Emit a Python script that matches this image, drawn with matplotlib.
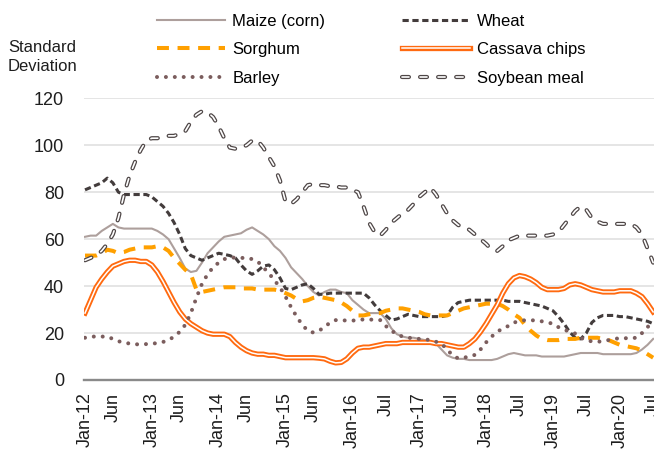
import numpy as np
import pandas as pd
import matplotlib
matplotlib.use('Agg')
import matplotlib.pyplot as plt
import matplotlib.patheffects as pe

plt.rcParams['font.family'] = ['Liberation Sans', 'DejaVu Sans']
plt.rcParams['lines.scale_dashes'] = False

# monthly, Jan-2012 .. Jul-2020
months = pd.date_range('2012-01-01', '2020-07-01', freq='MS')

maize = [61, 61.5, 61.5, 63.5, 65, 66.5, 65, 64.5, 64.5, 64.5, 64.5, 64.5,
         64.5, 63.5, 62, 60, 56, 52, 47.5, 46, 46.5, 50, 54, 56.5,
         59, 61, 61.5, 62, 62.5, 64, 65, 63.5, 62, 60, 57, 55,
         52, 48, 45.5, 43, 40, 37.5, 36, 37.5, 38.5, 38.5, 37.5, 37,
         34, 32, 30, 28.5, 28.5, 28.5, 26, 22, 19.5, 18.5, 18, 18,
         17.5, 17, 16.5, 15.5, 13, 10.5, 9.5, 9, 9, 8.5, 8.5, 8.5,
         8.5, 8.5, 9, 10, 11, 11.5, 11, 10.5, 10.5, 10.5, 10, 10,
         10, 10, 10, 10.5, 11, 11.5, 11.5, 11.5, 11.5, 11, 11, 11,
         11, 11, 11, 11.5, 13, 15, 17.5]

wheat = [81, 82, 83, 84, 86, 84, 80, 79, 79, 79, 79, 79,
         78, 76, 74, 71, 67, 62, 56, 53, 52, 51, 52, 53,
         54, 53.5, 53, 52, 49, 46.5, 45, 46.5, 48.5, 49, 47, 43.5,
         39, 38.5, 39.5, 40.5, 41, 39, 36.5, 36.5, 37, 37, 37, 37,
         37, 37, 37, 35, 32, 29.5, 27.5, 25.5, 26, 27, 28, 27.5,
         27, 27, 27, 27, 27, 27.5, 31, 33, 33.5, 34, 34, 34,
         34, 34, 34, 34, 33.5, 33.5, 33.5, 33, 32.5, 32, 31.5, 30.5,
         29.5, 27, 24, 20.5, 18, 17.5, 20, 24.5, 26.5, 27.5, 27.5, 27.5,
         27, 27, 26.5, 26, 25.5, 25, 24]

sorghum = [53, 53, 53, 54, 55.5, 55, 54, 54.5, 55.5, 56, 56.5, 56.5,
           56.5, 57, 56.5, 55, 52, 49.5, 47, 45, 38.5, 37.5, 38, 38.5,
           39, 39.5, 39.5, 39.5, 39, 39, 39, 38.5, 38.5, 38.5, 38.5, 38,
           37, 36, 34.5, 33.5, 34, 35, 35.5, 35, 34.5, 34, 33, 31.5,
           29.5, 27.5, 27.5, 28, 28.5, 28.5, 29.5, 30, 30.5, 30.5, 30, 29.5,
           29, 28, 27.5, 27.5, 27.5, 27.5, 28.5, 29.5, 30.5, 31, 31.5, 32,
           32.5, 32.5, 32.5, 31.5, 30, 28, 26.5, 23.5, 21, 19, 17.5, 17,
           17, 17, 17.5, 17.5, 17.5, 18, 18, 18, 18, 17.5, 17, 16,
           15, 14.5, 14, 13.5, 12.5, 11, 9.5]

cassava = [28.5, 34, 39.5, 43, 46, 48.5, 49.5, 50.5, 51, 51, 50.5, 50.5,
           49, 46, 42, 37.5, 33, 29, 26, 24, 22.5, 21, 20, 19.5,
           19.5, 19.5, 18.5, 16, 14, 12.5, 11.5, 11, 11, 10.5, 10.5, 10,
           9.5, 9.5, 9.5, 9.5, 9.5, 9.5, 9.3, 9, 8, 7.3, 7.5, 9,
           11.5, 13.5, 14, 14, 14.5, 15, 15.5, 15.5, 15.5, 16, 16, 16,
           16, 16, 16, 15.5, 15.5, 15, 14.5, 14, 14, 15.5, 17.5, 20.5,
           24, 28, 32, 37, 41, 43.5, 44.5, 44, 43, 41.5, 39.5, 38.5,
           38.5, 38.5, 39, 40.5, 41, 40.5, 39.5, 38.5, 38, 37.5, 37.5, 37.5,
           38, 38, 38, 37, 35.5, 32.5, 29]

barley = [18, 18.5, 18.5, 18.5, 18.5, 17.5, 16.5, 16, 15.5, 15.2, 15.2, 15.3,
          15.5, 15.7, 16.2, 17, 18.5, 20.5, 23.5, 28.5, 35, 41, 45, 48,
          50, 51.5, 52, 52.2, 52, 52, 51.5, 50.5, 48, 45.5, 42.5, 39.5,
          35.5, 31, 27, 23.5, 21, 20.2, 21, 22.5, 24.5, 25.5, 25.5, 25.3,
          25.3, 25.5, 25.8, 25.8, 25.6, 25.5, 23, 21, 19.5, 18.5, 18, 17.8,
          17.5, 17.3, 17, 16.3, 15.5, 13, 10.5, 9.2, 9.5, 10, 10.7, 13,
          16, 18.5, 20.5, 22, 23, 24.5, 25, 25.5, 25.5, 25.3, 25, 24.5,
          24, 22.5, 21.5, 20.5, 19.8, 18, 16.8, 16.5, 16.3, 16.5, 17, 17.5,
          17.8, 17.8, 17.8, 18, 20, 22.5, 25.5]

soybean = [51, 52, 53, 55, 58, 62, 69, 79, 87, 93, 98, 102,
           103, 103, 103.5, 104, 104, 105, 106, 110, 113, 114.5, 114, 112,
           108, 103, 99, 98.5, 99, 100, 102, 102, 99, 95, 91, 85,
           76, 75, 77, 80, 83, 83.5, 83, 83, 82.5, 82.5, 82, 82,
           81, 80, 74, 67, 63, 61.5, 64, 67, 69, 71, 72.5, 75,
           78, 80, 82, 79, 75, 71, 68, 66, 65, 64, 62, 60,
           58, 55.5, 55, 57, 59.5, 60.5, 61.5, 61.5, 61.5, 61.5, 61.5, 61.5,
           62, 63, 66, 69, 72, 74, 72.5, 69, 67.5, 66.5, 66.5, 66.5,
           66.5, 66.5, 66.5, 65, 62, 56, 50]

tick_months = ['2012-01', '2012-06', '2013-01', '2013-06', '2014-01', '2014-06',
               '2015-01', '2015-06', '2016-01', '2016-07', '2017-01', '2017-07',
               '2018-01', '2018-07', '2019-01', '2019-07', '2020-01', '2020-07']
tick_labels = ['Jan-12', 'Jun', 'Jan-13', 'Jun', 'Jan-14', 'Jun', 'Jan-15', 'Jun',
               'Jan-16', 'Jul', 'Jan-17', 'Jul', 'Jan-18', 'Jul', 'Jan-19', 'Jul',
               'Jan-20', 'Jul']

x = np.arange(len(months))

fig = plt.figure(figsize=(6.54, 4.49), dpi=100)
ax = fig.add_axes([83.5 / 654, 69 / 449, 570.5 / 654, 281.7 / 449])

l_maize, = ax.plot(x, maize, color='#ad9f9c', lw=1.5, label='Maize (corn)')
l_wheat, = ax.plot(x, wheat, color='#433c3c', lw=2.2, linestyle=(0, (4.5, 2.6)),
                   label='Wheat')
l_sorg, = ax.plot(x, sorghum, color='#ffa000', lw=2.9, linestyle=(0, (8.6, 6.2)),
                  label='Sorghum')
l_cass, = ax.plot(x, cassava, color='white', lw=1.1, label='Cassava chips',
                  path_effects=[pe.Stroke(linewidth=3.8, foreground='#ff6a10'), pe.Normal()])
l_barley, = ax.plot(x, barley, color='#7b5d5d', lw=2.9, linestyle=(0, (0.01, 6.4)),
                    dash_capstyle='round', label='Barley')
l_soy, = ax.plot(x, soybean, color='white', lw=1.2, linestyle=(0, (5, 8)),
                 dash_capstyle='round', label='Soybean meal',
                 path_effects=[pe.Stroke(linewidth=3.0, foreground='#4f4747'), pe.Normal()])

ax.set_xlim(-0.27, 102.15)
ax.set_ylim(0, 120)
ax.set_yticks(np.arange(0, 121, 20))
ax.grid(axis='y', color='#dedede', lw=1.1)
ax.set_axisbelow(True)
for s in ['top', 'right', 'left']:
    ax.spines[s].set_visible(False)
ax.spines['bottom'].set_color('#8a8a8a')
ax.spines['bottom'].set_linewidth(1.7)

tick_pos = [months.get_loc(pd.Timestamp(m)) for m in tick_months]
ax.set_xticks(tick_pos)
ax.set_xticklabels(tick_labels, rotation=90, fontsize=13, color='#1e1e1e')
ax.tick_params(axis='x', length=0, pad=9)
ax.tick_params(axis='y', length=0, pad=14, labelsize=13, labelcolor='#1e1e1e')

handles = [l_maize, l_sorg, l_barley, l_wheat, l_cass, l_soy]
fig.legend(handles, [h.get_label() for h in handles], ncol=2, loc='upper left',
           bbox_to_anchor=(157 / 654, 1 - 14 / 449), frameon=False, fontsize=12,
           handlelength=4.1, handletextpad=0.42, columnspacing=4.6,
           labelspacing=0.8, borderpad=0, borderaxespad=0)

fig.text(8 / 654, 1 - 57 / 449, 'Standard\nDeviation', fontsize=12, va='center',
         ha='left', color='#1e1e1e', linespacing=1.3)

fig.savefig('out.png', dpi=100)
